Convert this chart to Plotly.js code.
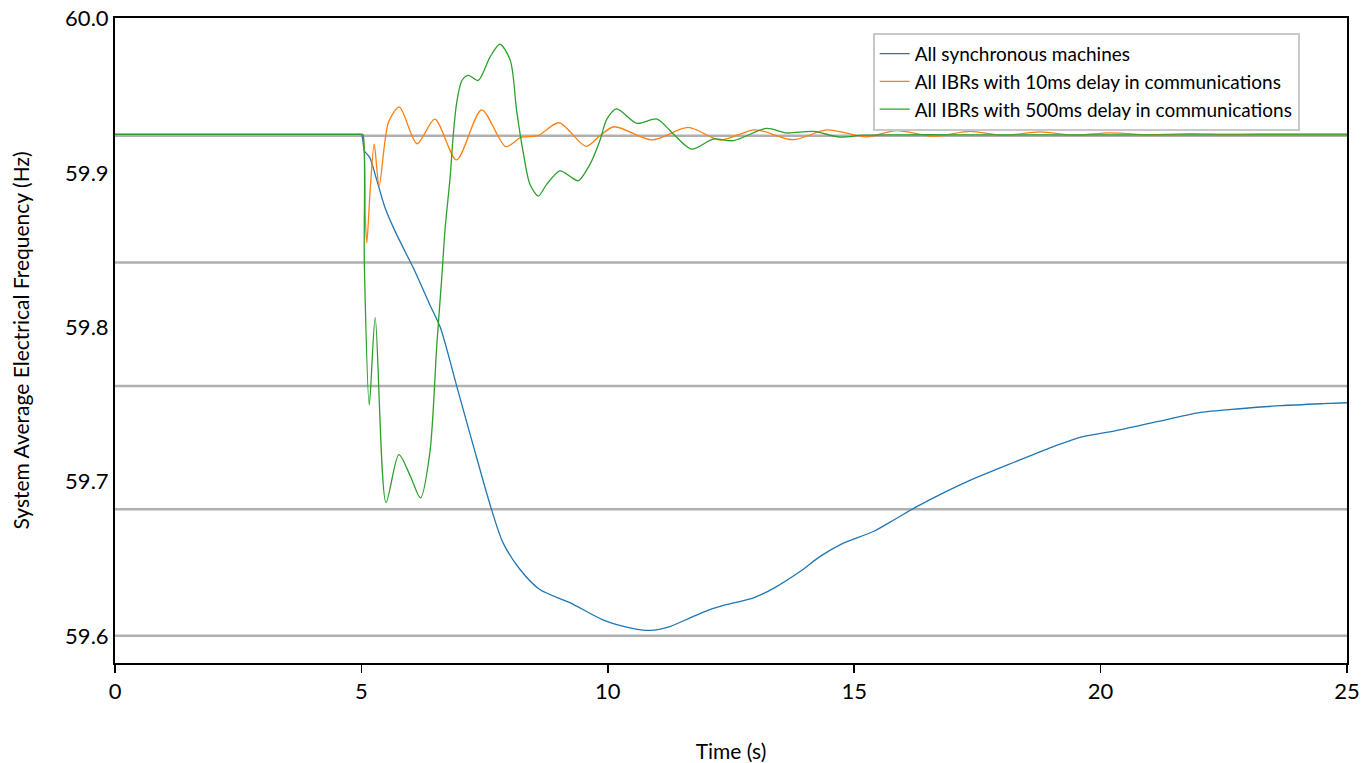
<!DOCTYPE html>
<html>
<head>
<meta charset="utf-8">
<script src="https://cdn.plot.ly/plotly-3.0.1.min.js"></script>
<style>html,body{margin:0;padding:0;background:#fff;}#chart{width:1372px;height:763px;}</style>
</head>
<body>
<div id="chart"></div>
<script>
// Series: All synchronous machines
const syncT = [0, 1, 2, 3, 4, 4.6, 4.9, 5.0, 5.04, 5.06, 5.17, 5.28, 5.48, 5.68, 5.88, 6.09, 6.39, 6.60, 6.93, 7.27, 7.64, 7.87, 8.22, 8.62, 9.23, 9.90, 10.45, 10.86, 11.26, 11.67, 12.07, 12.38, 12.97, 13.39, 13.90, 14.31, 14.73, 15.40, 15.83, 16.25, 16.76, 17.27, 18.26, 19.03, 19.62, 20.29, 21.14, 21.98, 22.83, 23.66, 24.51, 25];
const syncF = [59.925, 59.925, 59.925, 59.925, 59.925, 59.925, 59.925, 59.925, 59.918, 59.9145, 59.910, 59.899, 59.8775, 59.8625, 59.8495, 59.836, 59.8145, 59.800, 59.7624, 59.7233, 59.682, 59.6606, 59.643, 59.630, 59.6215, 59.6104, 59.6052, 59.6035, 59.606, 59.6117, 59.617, 59.620, 59.6248, 59.6313, 59.6417, 59.6515, 59.6593, 59.6678, 59.6756, 59.6834, 59.6919, 59.6997, 59.7127, 59.7225, 59.729, 59.7329, 59.7388, 59.7446, 59.7472, 59.7492, 59.7505, 59.7511];

// Series: All IBRs with 10ms delay in communications
const ibr10T = [0, 1, 2, 3, 4, 4.6, 4.9, 5.0, 5.03, 5.08, 5.11, 5.18, 5.26, 5.36, 5.55, 5.77, 6.13, 6.49, 6.93, 7.44, 7.93, 8.24, 8.58, 9.01, 9.56, 9.84, 10.13, 10.90, 11.63, 12.28, 12.99, 13.76, 14.45, 15.25, 15.86, 16.60, 17.35, 18.02, 18.77, 19.48, 20.19, 21.0, 21.8, 22.5, 23.2, 24.0, 25];
const ibr10F = [59.925, 59.925, 59.925, 59.925, 59.925, 59.925, 59.925, 59.925, 59.925, 59.870, 59.8547, 59.890, 59.9188, 59.8917, 59.933, 59.9427, 59.919, 59.935, 59.9085, 59.941, 59.9171, 59.9231, 59.9242, 59.9326, 59.9173, 59.9242, 59.930, 59.9215, 59.9296, 59.9214, 59.928, 59.9216, 59.928, 59.9234, 59.9275, 59.9238, 59.927, 59.9244, 59.9267, 59.9245, 59.9261, 59.9248, 59.9256, 59.9252, 59.9253, 59.9253, 59.9253];

// Series: All IBRs with 500ms delay in communications
const ibr500T = [0, 1, 2, 3, 4, 4.6, 4.9, 5.0, 5.03, 5.06, 5.16, 5.28, 5.50, 5.76, 5.99, 6.20, 6.39, 6.53, 6.63, 6.70, 6.80, 6.86, 6.93, 7.04, 7.17, 7.37, 7.61, 7.81, 8.02, 8.15, 8.29, 8.42, 8.59, 8.76, 9.03, 9.27, 9.40, 9.64, 9.84, 9.98, 10.18, 10.59, 11.0, 11.33, 11.70, 12.14, 12.55, 13.22, 13.63, 14.17, 14.71, 15.18, 16.0, 17.0, 18.5, 20.0, 22.0, 25];
const ibr500F = [59.925, 59.925, 59.925, 59.925, 59.925, 59.925, 59.925, 59.925, 59.925, 59.840, 59.7498, 59.8063, 59.6864, 59.7175, 59.7038, 59.6894, 59.719, 59.7885, 59.8319, 59.8645, 59.897, 59.923, 59.9448, 59.960, 59.9633, 59.960, 59.9752, 59.9835, 59.9732, 59.9405, 59.9123, 59.8927, 59.8851, 59.8927, 59.9014, 59.897, 59.895, 59.9058, 59.9211, 59.935, 59.9416, 59.9322, 59.935, 59.9253, 59.9155, 59.922, 59.921, 59.9289, 59.926, 59.927, 59.9233, 59.9246, 59.9248, 59.9248, 59.9248, 59.9248, 59.9248, 59.9248];

// Horizontal reference lines
const refLines = [59.6, 59.682, 59.762, 59.842, 59.9242];

const names = ["All synchronous machines", "All IBRs with 10ms delay in communications", "All IBRs with 500ms delay in communications"];
const colors = ["#1f77b4", "#ff7f0e", "#2ca02c"];

const fontFam = "Lato, 'Open Sans', sans-serif";

const traces = [
  {x: syncT, y: syncF, name: names[0]},
  {x: ibr10T, y: ibr10F, name: names[1]},
  {x: ibr500T, y: ibr500F, name: names[2]}
].map((t, i) => Object.assign(t, {
  type: 'scatter', mode: 'lines',
  line: {color: colors[i], width: 1.3, shape: 'spline', smoothing: 0.8}
}));

const shapes = refLines.map(v => ({
  type: 'line', xref: 'paper', x0: 0, x1: 1, yref: 'y', y0: v, y1: v,
  line: {color: '#b0b0b0', width: 2.5}, layer: 'below'
}));

const layout = {
  width: 1372, height: 763,
  margin: {l: 115, r: 25, t: 18, b: 100},
  paper_bgcolor: '#fff', plot_bgcolor: '#fff',
  font: {family: fontFam, color: '#000'},
  showlegend: true,
  legend: {
    x: 0.615, y: 0.977, xanchor: 'left', yanchor: 'top',
    bgcolor: '#fff', bordercolor: '#c8c8c8', borderwidth: 2,
    font: {size: 19, family: fontFam}, tracegroupgap: 0
  },
  xaxis: {
    range: [0, 25], tickvals: [0, 5, 10, 15, 20, 25],
    showgrid: false, zeroline: false,
    showline: true, linecolor: '#000', linewidth: 2, mirror: true,
    ticks: 'outside', ticklen: 8, tickwidth: 1.5, tickcolor: '#000',
    tickfont: {size: 22, family: fontFam},
    title: {text: 'Time (s)', font: {size: 21, family: fontFam}, standoff: 41}
  },
  yaxis: {
    range: [59.5824, 60.0005], tickvals: [59.6, 59.7, 59.8, 59.9, 60.0],
    ticktext: ['59.6', '59.7', '59.8', '59.9', '60.0'],
    showgrid: false, zeroline: false,
    showline: true, linecolor: '#000', linewidth: 2, mirror: true,
    ticks: '', ticklen: 0,
    tickfont: {size: 22, family: fontFam},
    title: {text: 'System Average Electrical Frequency (Hz)', font: {size: 21, family: fontFam}, standoff: 30}
  },
  shapes: shapes
};

Plotly.newPlot('chart', traces, layout, {displayModeBar: false, staticPlot: true});
</script>
</body>
</html>
